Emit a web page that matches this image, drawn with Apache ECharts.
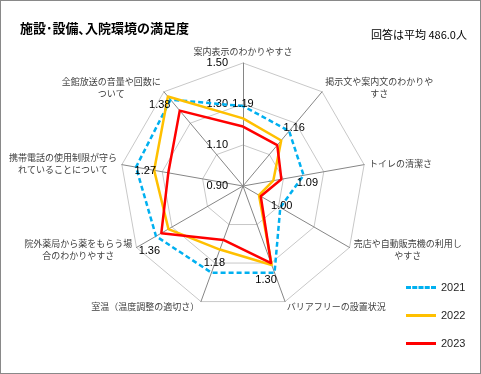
<!DOCTYPE html>
<html>
<head>
<meta charset="utf-8">
<script src="https://cdn.jsdelivr.net/npm/echarts@6/dist/echarts.min.js"></script>
<style>
html, body { margin: 0; padding: 0; background: #fff; }
#chart { position: absolute; left: 0; top: 0; width: 481px; height: 374px; box-sizing: border-box; border: 1px solid #898989; }
</style>
</head>
<body>
<div id="chart"></div>
<script>
// axis names, clockwise from the top
var items = [
  '案内表示のわかりやすさ',
  '掲示文や案内文のわかりや\nすさ',
  'トイレの清潔さ',
  '売店や自動販売機の利用し\nやすさ',
  'バリアフリーの設置状況',
  '室温（温度調整の適切さ）',
  '院外薬局から薬をもらう場\n合のわかりやすさ',
  '携帯電話の使用制限が守ら\nれていることについて',
  '全館放送の音量や回数に\nついて'
];
var years = ['2021', '2022', '2023'];
var v2021 = [1.29, 1.25, 1.20, 1.11, 1.35, 1.35, 1.39, 1.43, 1.45];
var v2022 = [1.23, 1.19, 1.05, 0.99, 1.31, 1.23, 1.32, 1.34, 1.47];
var v2023 = [1.19, 1.16, 1.09, 1.00, 1.30, 1.18, 1.36, 1.27, 1.38];
var scaleMin = 0.9, scaleMax = 1.5;

// where each 2023 value label sits, relative to its point
var labelOffsets = [[0, -23], [17, -17], [26, 4], [21, 10], [-5, 17], [-9, 23], [-12, 18], [-23, -2], [-20, -6]];

var colors = ['#00B0F0', '#FFC000', '#FF0000'];
var numFont = '"Liberation Sans", Arial, sans-serif';
var dashIcon = 'path://M0,0h5v3h-5z M6.25,0h5v3h-5z M12.5,0h5v3h-5z M18.75,0h5v3h-5z M25,0h5v3h-5z';

// echarts lays radar axes out counter-clockwise, so feed them in reverse after the first
var order = [0, 8, 7, 6, 5, 4, 3, 2, 1];
function arrange(arr) { return order.map(function (i) { return arr[i]; }); }

var chart = echarts.init(document.getElementById('chart'));

var indicator = arrange(items).map(function (name, d) {
  var ind = { name: name, min: scaleMin, max: scaleMax };
  if (d === 0) ind.axisLabel = { show: true };
  return ind;
});

var series = [v2021, v2022, v2023].map(function (vals, i) {
  return {
    type: 'radar',
    name: years[i],
    symbol: 'none',
    itemStyle: { color: colors[i] },
    lineStyle: { color: colors[i], width: 2.5, type: i === 0 ? [5, 3] : 'solid' },
    data: [{ name: years[i], value: arrange(vals) }]
  };
});

// one invisible polygon per axis so each 2023 label can have its own offset
v2023.forEach(function (v, k) {
  var vals = v2023.map(function (x, j) { return j === k ? x : scaleMin; });
  series.push({
    type: 'radar',
    name: 'lbl' + k,
    symbol: 'circle',
    symbolSize: 0.1,
    silent: true,
    itemStyle: { color: 'rgba(0,0,0,0)' },
    lineStyle: { opacity: 0 },
    label: {
      show: true,
      position: 'inside',
      offset: labelOffsets[k],
      fontSize: 11,
      fontFamily: numFont,
      color: '#000',
      formatter: function (p) { return p.value === v ? v.toFixed(2) : ''; }
    },
    data: [{ value: arrange(vals) }]
  });
});

chart.setOption({
  animation: false,
  textStyle: { fontFamily: '"Noto Sans CJK JP", sans-serif' },
  title: [{
    text: '施設･設備､入院環境の満足度',
    left: 14, top: 16,
    textStyle: { fontSize: 13, fontWeight: 'bold', color: '#000' }
  }, {
    text: '回答は平均 486.0人',
    left: 365, top: 23,
    textStyle: { fontSize: 11, fontWeight: 'normal', color: '#000' }
  }],
  legend: {
    orient: 'vertical',
    left: 400, top: 276,
    itemWidth: 30, itemHeight: 3, itemGap: 17,
    textStyle: { fontSize: 11, fontFamily: numFont, color: '#262626' },
    data: [
      { name: '2021', icon: dashIcon, itemStyle: { color: colors[0] } },
      { name: '2022', icon: 'rect', itemStyle: { color: colors[1] } },
      { name: '2023', icon: 'rect', itemStyle: { color: colors[2] } }
    ]
  },
  radar: {
    center: [242, 185],
    radius: 123,
    startAngle: 90,
    shape: 'polygon',
    splitNumber: 3,
    axisNameGap: 5,
    axisName: {
      color: '#404040',
      fontSize: 9,
      formatter: function (name) {
        return name.split('\n').map(function (s) { return '{c|' + s + '}'; }).join('\n');
      },
      rich: { c: { align: 'center', fontSize: 9, lineHeight: 12, color: '#404040' } }
    },
    axisLine: { lineStyle: { color: '#868686', width: 1 } },
    splitLine: { lineStyle: { color: '#c8c8c8', width: 1 } },
    splitArea: { show: false },
    axisTick: { show: false },
    axisLabel: {
      show: false,
      fontSize: 11,
      fontFamily: numFont,
      color: '#000',
      margin: 15,
      formatter: function (v) { return Number(v).toFixed(2); }
    },
    indicator: indicator
  },
  series: series
});
</script>
</body>
</html>
